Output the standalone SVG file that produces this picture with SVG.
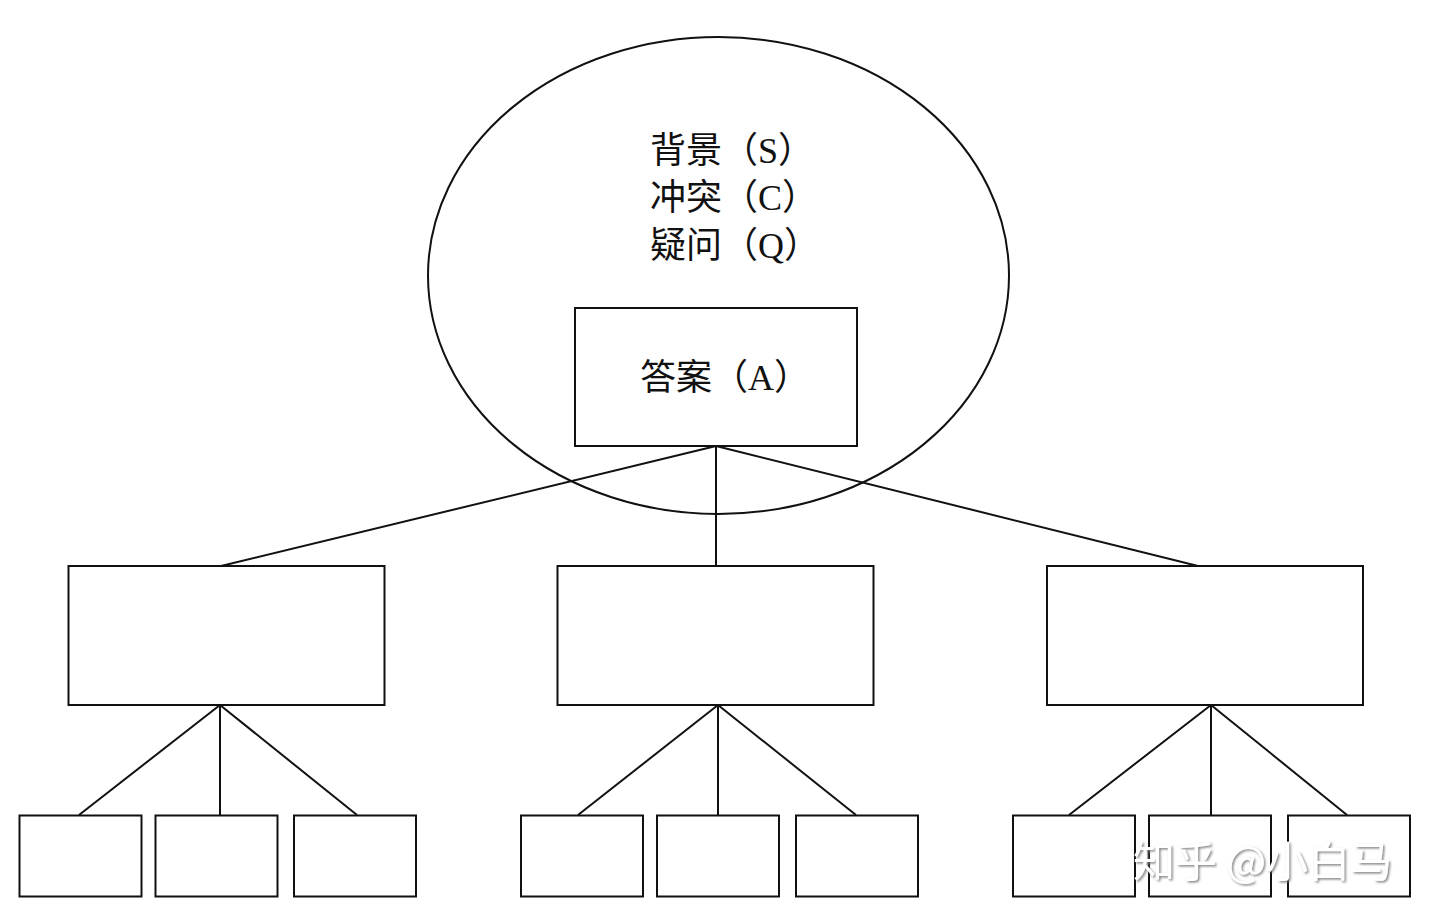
<svg xmlns="http://www.w3.org/2000/svg" width="1436" height="919" viewBox="0 0 1436 919">
<style>
.box{fill:none;stroke:#111;stroke-width:2}
.ln{stroke:#111;stroke-width:2;fill:none}
.t{font-family:"Liberation Serif","Noto Sans CJK SC",serif;font-size:36px;fill:#111}
.wm{font-family:"Noto Sans CJK SC","Noto Sans",sans-serif;font-size:42px;fill:#fff;filter:url(#sh)}
</style>
<defs>
<filter id="sh" x="-10%" y="-30%" width="120%" height="160%">
<feDropShadow dx="1.5" dy="1.5" stdDeviation="1" flood-color="#777" flood-opacity="0.9"/>
</filter>
</defs>
<rect width="1436" height="919" fill="#fff"/>
<g id="connectors">
<line class="ln" x1="716" y1="446" x2="221" y2="566"/>
<line class="ln" x1="716" y1="446" x2="716" y2="566"/>
<line class="ln" x1="716" y1="446" x2="1198" y2="566"/>
<line class="ln" x1="220" y1="705" x2="79" y2="815"/>
<line class="ln" x1="220" y1="705" x2="220" y2="815"/>
<line class="ln" x1="220" y1="705" x2="357" y2="815"/>
<line class="ln" x1="718" y1="705" x2="578" y2="815"/>
<line class="ln" x1="718" y1="705" x2="718" y2="815"/>
<line class="ln" x1="718" y1="705" x2="856" y2="815"/>
<line class="ln" x1="1211" y1="705" x2="1069" y2="815"/>
<line class="ln" x1="1211" y1="705" x2="1211" y2="815"/>
<line class="ln" x1="1211" y1="705" x2="1347" y2="815"/>
</g>
<g id="scq">
<ellipse class="box" cx="718.5" cy="275.5" rx="290.5" ry="238.5"/>
<text class="t" x="650" y="163">背景（S）</text>
<text class="t" x="650" y="210">冲突（C）</text>
<text class="t" x="650" y="258">疑问（Q）</text>
</g>
<g id="answer">
<rect class="box" x="575" y="308" width="282" height="138"/>
<text class="t" x="640" y="390">答案（A）</text>
</g>
<g id="mid1"><rect class="box" x="68.5" y="566" width="316" height="139"/></g>
<g id="mid2"><rect class="box" x="557.5" y="566" width="316" height="139"/></g>
<g id="mid3"><rect class="box" x="1047" y="566" width="316" height="139"/></g>
<g id="leaf1"><rect class="box" x="19.5" y="815.5" width="122" height="81"/></g>
<g id="leaf2"><rect class="box" x="155.5" y="815.5" width="122" height="81"/></g>
<g id="leaf3"><rect class="box" x="294" y="815.5" width="122" height="81"/></g>
<g id="leaf4"><rect class="box" x="521" y="815.5" width="122" height="81"/></g>
<g id="leaf5"><rect class="box" x="657" y="815.5" width="122" height="81"/></g>
<g id="leaf6"><rect class="box" x="796" y="815.5" width="122" height="81"/></g>
<g id="leaf7"><rect class="box" x="1013" y="815.5" width="122" height="81"/></g>
<g id="leaf8"><rect class="box" x="1149" y="815.5" width="122" height="81"/></g>
<g id="leaf9"><rect class="box" x="1288" y="815.5" width="122" height="81"/></g>
<g id="watermark">
<text class="wm" x="1133" y="877">知乎 @小白马</text>
</g>
</svg>
